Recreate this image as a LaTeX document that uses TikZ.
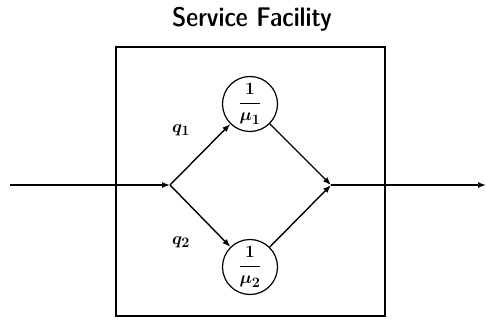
\documentclass[tikz,border=0pt]{standalone}
\usetikzlibrary{arrows.meta}
\begin{document}
\begin{tikzpicture}[x=1pt,y=-1pt,
  conn/.style={line width=1.4pt,-{Latex[length=8pt,width=6pt]}},
  server/.style={circle,draw,line width=1.2pt,minimum size=55pt,inner sep=0pt,
    font=\fontsize{19}{22}\selectfont\boldmath},
  prob/.style={font=\fontsize{19}{22}\selectfont\boldmath}]
\useasboundingbox (0,0) rectangle (486,320);
\node[font=\sffamily\fontseries{sbc}\fontsize{27}{32}\selectfont] (title) at (252,19) {Service Facility};
\node[draw,line width=1.2pt,minimum width=269pt,minimum height=269pt,inner sep=0pt] (box) at (250.5,181.5) {};
\coordinate (in) at (10,185);
\coordinate (split) at (170,185);
\coordinate (merge) at (331,185);
\coordinate (out) at (486,185);
\node[server] (s1) at (250,104) {$\displaystyle\frac{1}{\mu_1}$};
\node[server] (s2) at (250,267) {$\displaystyle\frac{1}{\mu_2}$};
\node[prob] (q1) at (181,130) {$q_1$};
\node[prob] (q2) at (181,242) {$q_2$};
\draw[conn] (in) -- (split);
\draw[conn] (split) -- (s1);
\draw[conn] (split) -- (s2);
\draw[conn] (s1) -- (merge);
\draw[conn] (s2) -- (merge);
\draw[conn] (merge) -- (out);
\end{tikzpicture}
\end{document}
